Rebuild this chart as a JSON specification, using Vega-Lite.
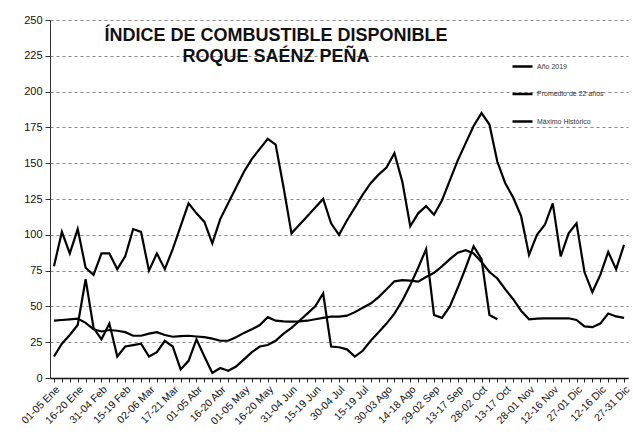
{
  "$schema": "https://vega.github.io/schema/vega-lite/v6.json",
  "width": 578,
  "height": 358,
  "autosize": {"type": "none"},
  "padding": {"left": 50, "top": 20, "right": 5, "bottom": 57},
  "background": "white",
  "title": {
    "text": ["ÍNDICE DE COMBUSTIBLE DISPONIBLE", "ROQUE SAÉNZ PEÑA"],
    "font": "Liberation Sans",
    "fontSize": 18,
    "fontWeight": "bold",
    "color": "#111111",
    "anchor": "middle",
    "frame": "group",
    "baseline": "top",
    "offset": -9,
    "dy": 43,
    "dx": -63,
    "lineHeight": 21
  },
  "data": {
    "values": [
      {"p": "01-05 Ene", "Máximo Histórico": 78, "Promedio de 22 años": 40, "Año 2019": 15},
      {"p": "06-10 Ene", "Máximo Histórico": 102, "Promedio de 22 años": 40.5, "Año 2019": 24},
      {"p": "11-15 Ene", "Máximo Histórico": 87, "Promedio de 22 años": 41, "Año 2019": 30},
      {"p": "16-20 Ene", "Máximo Histórico": 104, "Promedio de 22 años": 41.5, "Año 2019": 37},
      {"p": "21-25 Ene", "Máximo Histórico": 77, "Promedio de 22 años": 38.5, "Año 2019": 69},
      {"p": "26-30 Ene", "Máximo Histórico": 72, "Promedio de 22 años": 34, "Año 2019": 35},
      {"p": "31-04 Feb", "Máximo Histórico": 87, "Promedio de 22 años": 32.5, "Año 2019": 27},
      {"p": "05-09 Feb", "Máximo Histórico": 87, "Promedio de 22 años": 33.5, "Año 2019": 38},
      {"p": "10-14 Feb", "Máximo Histórico": 76, "Promedio de 22 años": 33, "Año 2019": 15},
      {"p": "15-19 Feb", "Máximo Histórico": 85, "Promedio de 22 años": 32, "Año 2019": 22},
      {"p": "20-24 Feb", "Máximo Histórico": 104, "Promedio de 22 años": 29.5, "Año 2019": 23},
      {"p": "25-01 Mar", "Máximo Histórico": 102, "Promedio de 22 años": 29.5, "Año 2019": 24},
      {"p": "02-06 Mar", "Máximo Histórico": 75, "Promedio de 22 años": 31, "Año 2019": 15},
      {"p": "07-11 Mar", "Máximo Histórico": 87, "Promedio de 22 años": 32, "Año 2019": 18},
      {"p": "12-16 Mar", "Máximo Histórico": 76, "Promedio de 22 años": 30, "Año 2019": 26},
      {"p": "17-21 Mar", "Máximo Histórico": 90, "Promedio de 22 años": 28.8, "Año 2019": 22},
      {"p": "22-26 Mar", "Máximo Histórico": 106, "Promedio de 22 años": 29.3, "Año 2019": 6},
      {"p": "27-31 Mar", "Máximo Histórico": 122, "Promedio de 22 años": 29.5, "Año 2019": 12},
      {"p": "01-05 Abr", "Máximo Histórico": 115, "Promedio de 22 años": 29, "Año 2019": 27},
      {"p": "06-10 Abr", "Máximo Histórico": 109, "Promedio de 22 años": 28.5, "Año 2019": 15},
      {"p": "11-15 Abr", "Máximo Histórico": 94, "Promedio de 22 años": 27.5, "Año 2019": 3.5},
      {"p": "16-20 Abr", "Máximo Histórico": 111, "Promedio de 22 años": 26, "Año 2019": 7},
      {"p": "21-25 Abr", "Máximo Histórico": 122, "Promedio de 22 años": 26, "Año 2019": 5},
      {"p": "26-30 Abr", "Máximo Histórico": 133, "Promedio de 22 años": 28.5, "Año 2019": 8},
      {"p": "01-05 May", "Máximo Histórico": 144, "Promedio de 22 años": 31.5, "Año 2019": 13},
      {"p": "06-10 May", "Máximo Histórico": 153, "Promedio de 22 años": 34, "Año 2019": 18},
      {"p": "11-15 May", "Máximo Histórico": 160, "Promedio de 22 años": 37, "Año 2019": 22},
      {"p": "16-20 May", "Máximo Histórico": 167, "Promedio de 22 años": 42.5, "Año 2019": 23},
      {"p": "21-25 May", "Máximo Histórico": 163, "Promedio de 22 años": 40, "Año 2019": 26},
      {"p": "26-30 May", "Máximo Histórico": 133, "Promedio de 22 años": 39.5, "Año 2019": 31},
      {"p": "31-04 Jun", "Máximo Histórico": 101, "Promedio de 22 años": 39.3, "Año 2019": 35},
      {"p": "05-09 Jun", "Máximo Histórico": 107, "Promedio de 22 años": 39.5, "Año 2019": 40},
      {"p": "10-14 Jun", "Máximo Histórico": 113, "Promedio de 22 años": 40, "Año 2019": 45},
      {"p": "15-19 Jun", "Máximo Histórico": 119, "Promedio de 22 años": 41, "Año 2019": 50},
      {"p": "20-24 Jun", "Máximo Histórico": 125, "Promedio de 22 años": 42, "Año 2019": 59},
      {"p": "25-29 Jun", "Máximo Histórico": 108, "Promedio de 22 años": 42.8, "Año 2019": 22},
      {"p": "30-04 Jul", "Máximo Histórico": 100, "Promedio de 22 años": 42.8, "Año 2019": 21.5},
      {"p": "05-09 Jul", "Máximo Histórico": 110, "Promedio de 22 años": 43.5, "Año 2019": 20},
      {"p": "10-14 Jul", "Máximo Histórico": 119, "Promedio de 22 años": 46, "Año 2019": 15},
      {"p": "15-19 Jul", "Máximo Histórico": 128, "Promedio de 22 años": 49, "Año 2019": 19},
      {"p": "20-24 Jul", "Máximo Histórico": 136, "Promedio de 22 años": 52, "Año 2019": 26},
      {"p": "25-29 Jul", "Máximo Histórico": 142, "Promedio de 22 años": 56.5, "Año 2019": 32},
      {"p": "30-03 Ago", "Máximo Histórico": 147, "Promedio de 22 años": 62, "Año 2019": 38},
      {"p": "04-08 Ago", "Máximo Histórico": 157, "Promedio de 22 años": 67.5, "Año 2019": 45},
      {"p": "09-13 Ago", "Máximo Histórico": 137, "Promedio de 22 años": 68.4, "Año 2019": 54},
      {"p": "14-18 Ago", "Máximo Histórico": 106, "Promedio de 22 años": 68, "Año 2019": 65},
      {"p": "19-23 Ago", "Máximo Histórico": 115, "Promedio de 22 años": 67.3, "Año 2019": 77},
      {"p": "24-28 Ago", "Máximo Histórico": 120, "Promedio de 22 años": 70.5, "Año 2019": 90},
      {"p": "29-02 Sep", "Máximo Histórico": 114, "Promedio de 22 años": 73.5, "Año 2019": 44},
      {"p": "03-07 Sep", "Máximo Histórico": 124, "Promedio de 22 años": 78, "Año 2019": 42},
      {"p": "08-12 Sep", "Máximo Histórico": 138, "Promedio de 22 años": 83, "Año 2019": 50},
      {"p": "13-17 Sep", "Máximo Histórico": 152, "Promedio de 22 años": 87.5, "Año 2019": 63},
      {"p": "18-22 Sep", "Máximo Histórico": 164, "Promedio de 22 años": 89.2, "Año 2019": 77},
      {"p": "23-27 Sep", "Máximo Histórico": 176, "Promedio de 22 años": 87, "Año 2019": 92},
      {"p": "28-02 Oct", "Máximo Histórico": 185, "Promedio de 22 años": 81, "Año 2019": 83},
      {"p": "03-07 Oct", "Máximo Histórico": 177, "Promedio de 22 años": 74, "Año 2019": 44},
      {"p": "08-12 Oct", "Máximo Histórico": 151, "Promedio de 22 años": 69.5, "Año 2019": 41},
      {"p": "13-17 Oct", "Máximo Histórico": 136, "Promedio de 22 años": 62},
      {"p": "18-22 Oct", "Máximo Histórico": 126, "Promedio de 22 años": 55},
      {"p": "23-27 Oct", "Máximo Histórico": 113, "Promedio de 22 años": 47},
      {"p": "28-01 Nov", "Máximo Histórico": 86, "Promedio de 22 años": 41},
      {"p": "02-06 Nov", "Máximo Histórico": 100, "Promedio de 22 años": 41.5},
      {"p": "07-11 Nov", "Máximo Histórico": 107, "Promedio de 22 años": 41.7},
      {"p": "12-16 Nov", "Máximo Histórico": 122, "Promedio de 22 años": 41.7},
      {"p": "17-21 Nov", "Máximo Histórico": 85, "Promedio de 22 años": 41.7},
      {"p": "22-26 Nov", "Máximo Histórico": 101, "Promedio de 22 años": 41.7},
      {"p": "27-01 Dic", "Máximo Histórico": 108, "Promedio de 22 años": 40.5},
      {"p": "02-06 Dic", "Máximo Histórico": 74, "Promedio de 22 años": 36},
      {"p": "07-11 Dic", "Máximo Histórico": 60, "Promedio de 22 años": 35.5},
      {"p": "12-16 Dic", "Máximo Histórico": 72, "Promedio de 22 años": 38},
      {"p": "17-21 Dic", "Máximo Histórico": 88, "Promedio de 22 años": 45},
      {"p": "22-26 Dic", "Máximo Histórico": 76, "Promedio de 22 años": 43},
      {"p": "27-31 Dic", "Máximo Histórico": 93, "Promedio de 22 años": 42}
    ]
  },
  "transform": [
    {"fold": ["Año 2019", "Promedio de 22 años", "Máximo Histórico"], "as": ["serie", "valor"]}
  ],
  "mark": {"type": "line", "strokeWidth": 2.2, "strokeJoin": "miter"},
  "encoding": {
    "x": {
      "field": "p",
      "type": "nominal",
      "sort": null,
      "scale": {"type": "point", "padding": 0.5},
      "axis": {
        "title": null,
        "labelAngle": -45,
        "labelFont": "Liberation Sans",
        "labelFontSize": 10.5,
        "labelColor": "#111111",
        "labelOverlap": false,
        "labelPadding": 2,
        "labelExpr": "indexof(['01-05 Ene','16-20 Ene','31-04 Feb','15-19 Feb','02-06 Mar','17-21 Mar','01-05 Abr','16-20 Abr','01-05 May','16-20 May','31-04 Jun','15-19 Jun','30-04 Jul','15-19 Jul','30-03 Ago','14-18 Ago','29-02 Sep','13-17 Sep','28-02 Oct','13-17 Oct','28-01 Nov','12-16 Nov','27-01 Dic','12-16 Dic','27-31 Dic'], datum.value) >= 0 ? datum.value : ''",
        "tickSize": 4,
        "tickColor": "#222222",
        "domainColor": "#111111",
        "domainWidth": 1.3,
        "grid": false
      }
    },
    "y": {
      "field": "valor",
      "type": "quantitative",
      "scale": {"domain": [0, 250], "nice": false},
      "axis": {
        "title": null,
        "values": [0, 25, 50, 75, 100, 125, 150, 175, 200, 225, 250],
        "labelFont": "Liberation Sans",
        "labelFontSize": 11,
        "labelColor": "#111111",
        "labelPadding": 3,
        "tickSize": 5,
        "tickColor": "#333333",
        "domainColor": "#333333",
        "grid": true,
        "gridDash": [3, 3],
        "gridColor": "#555555",
        "gridWidth": 0.7
      }
    },
    "color": {
      "field": "serie",
      "type": "nominal",
      "scale": {"domain": ["Año 2019", "Promedio de 22 años", "Máximo Histórico"], "range": ["#000000", "#000000", "#000000"]},
      "legend": {
        "title": null,
        "orient": "none",
        "legendX": 461,
        "legendY": 35,
        "padding": 0,
        "symbolType": "stroke",
        "symbolSize": 400,
        "symbolStrokeWidth": 2.5,
        "labelFont": "Liberation Sans",
        "labelFontSize": 7,
        "labelColor": "#333333",
        "labelOffset": 3,
        "rowPadding": 10.5
      }
    }
  },
  "config": {"view": {"stroke": null}, "font": "Liberation Sans"}
}
